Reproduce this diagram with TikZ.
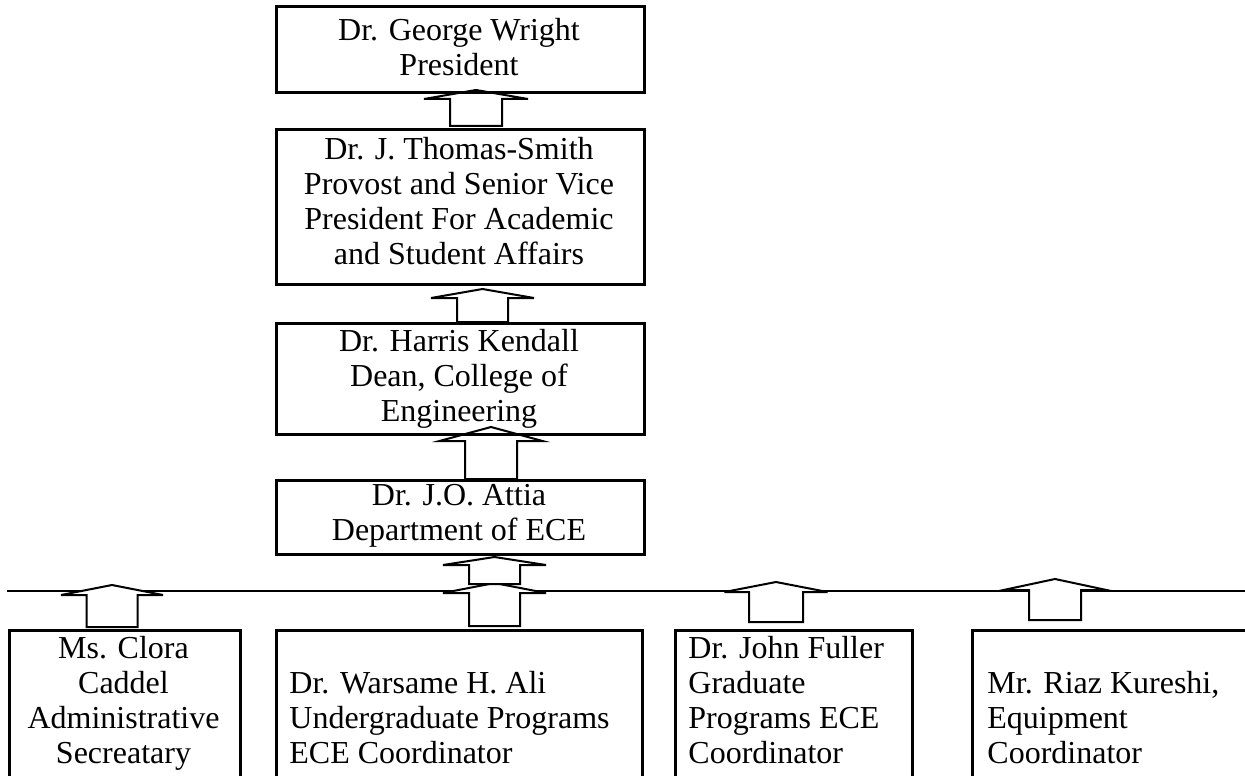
\documentclass[tikz,border=0pt]{standalone}
\usepackage{fontspec}
\setmainfont{Liberation Serif}
\newcommand\fs{\fontsize{16}{17.5}\selectfont}
\newcommand\blockarr[6]{% cx, tip, base, bottom, halfstem, halfhead
  \draw[barrow] ({#1-#5},#4) -- ({#1-#5},#3) -- ({#1-#6},#3) -- (#1,#2)
    -- ({#1+#6},#3) -- ({#1+#5},#3) -- ({#1+#5},#4) -- cycle;}
\tikzset{
  box/.style={draw, line width=1.3pt, inner sep=0pt, anchor=north west},
  txt/.style={inner sep=0pt, font=\fs, text=black},
  ctxt/.style={txt, align=center, anchor=north},
  ltxt/.style={txt, align=left, anchor=north west},
  barrow/.style={draw, fill=white, line width=1pt, line join=miter},
  hline/.style={line width=1.2pt}
}
\begin{document}
\begin{tikzpicture}[x=0.5pt, y=-0.5pt]
\useasboundingbox (0,0) rectangle (1245,775);
\fill[white] (0,0) rectangle (1245,775);
\begin{scope}
\clip (0,0) rectangle (1245,775);
% horizontal bus
\coordinate (busL) at (7,591);
\coordinate (busR) at (1245,591);
\draw[hline] (busL) -- (busR);
% block arrows
\blockarr{112}{585}{595}{627}{25.5}{51}
\blockarr{494.5}{583}{593}{626}{25.5}{51.5}
\blockarr{494.5}{557}{565}{584}{25.5}{51.5}
\blockarr{776}{582}{592}{622}{27}{51.5}
\blockarr{1055}{579}{590}{620}{26}{51.5}
\blockarr{476}{90}{99}{126}{26}{52}
\blockarr{482.5}{289}{298}{322}{25.5}{51.5}
\blockarr{491}{427}{441}{479}{26}{51.5}
% top boxes
\node[box, minimum width=184pt, minimum height=43pt] (b1) at (275,5) {};
\node[box, minimum width=184pt, minimum height=77.5pt] (b2) at (275,128) {};
\node[box, minimum width=184pt, minimum height=55.5pt] (b3) at (275,322) {};
\node[box, minimum width=184pt, minimum height=37pt] (b4) at (275,479) {};
% bottom boxes (cut by the page edge)
\node[box, minimum width=115.5pt, minimum height=90pt] (c) at (8,629) {};
\node[box, minimum width=183pt, minimum height=90pt] (a) at (275,629) {};
\node[box, minimum width=118.5pt, minimum height=90pt] (f) at (674,629) {};
\node[box, minimum width=160pt, minimum height=90pt] (r) at (971,629) {};
% texts
\node[ctxt] (t1) at (459,16) {\strut Dr. George Wright\\President};
\node[ctxt] (t2) at (459,135) {\strut Dr. J. Thomas-Smith\\Provost and Senior Vice\\President For Academic\\and Student Affairs};
\node[ctxt] (t3) at (459,327) {\strut Dr. Harris Kendall\\Dean, College of\\Engineering};
\node[ctxt] (t4) at (459,481) {\strut Dr. J.O. Attia\\Department of ECE};
\node[ctxt] (tc) at (123.5,634) {\strut Ms. Clora\\Caddel\\Administrative\\Secreatary};
\node[ltxt] (ta) at (289,669) {\strut Dr. Warsame H. Ali\\Undergraduate Programs\\ECE Coordinator};
\node[ltxt] (tf) at (688,634) {\strut Dr. John Fuller\\Graduate\\Programs ECE\\Coordinator};
\node[ltxt] (tr) at (987,669) {\strut Mr. Riaz Kureshi,\\Equipment\\Coordinator};
\end{scope}
\end{tikzpicture}
\end{document}
